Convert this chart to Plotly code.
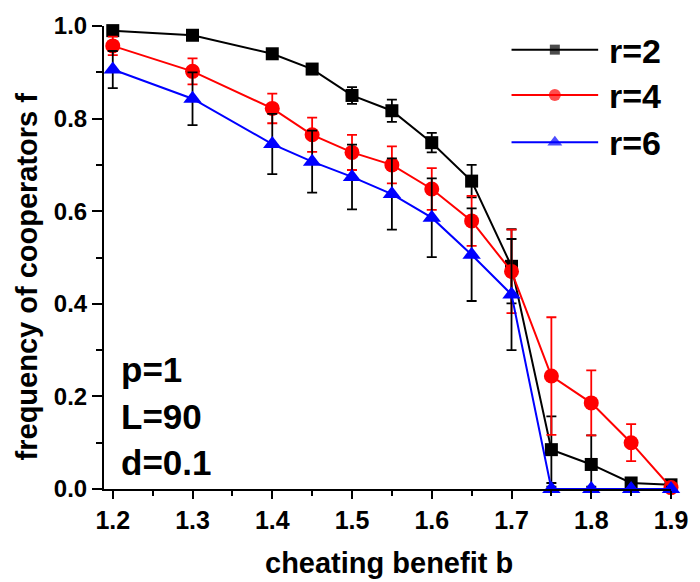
import plotly.graph_objects as go

# ---- data ----
b_vals = [1.2, 1.3, 1.4, 1.45, 1.5, 1.55, 1.6, 1.65, 1.7, 1.75, 1.8, 1.85, 1.9]
f_r2 = [0.990, 0.980, 0.940, 0.907, 0.850, 0.817, 0.748, 0.665, 0.481, 0.085, 0.053, 0.013, 0.009]
e_r2 = [0.005, 0.006, 0.010, 0.010, 0.018, 0.024, 0.021, 0.035, 0.080, 0.072, 0.063, 0.010, 0.010]
f_r4 = [0.957, 0.902, 0.822, 0.765, 0.727, 0.700, 0.648, 0.579, 0.470, 0.244, 0.186, 0.100, 0.003]
e_r4 = [0.020, 0.028, 0.032, 0.037, 0.038, 0.040, 0.045, 0.054, 0.090, 0.127, 0.070, 0.040, 0.010]
f_r6 = [0.906, 0.843, 0.745, 0.707, 0.674, 0.637, 0.586, 0.506, 0.420, 0.0, 0.0, 0.0, 0.0]
e_r6 = [0.040, 0.057, 0.065, 0.067, 0.070, 0.077, 0.085, 0.100, 0.120, 0.005, 0.005, 0.005, 0.005]

series_names = ["r=2", "r=4", "r=6"]
x_ticks = [1.2, 1.3, 1.4, 1.5, 1.6, 1.7, 1.8, 1.9]
x_ticktext = ["1.2", "1.3", "1.4", "1.5", "1.6", "1.7", "1.8", "1.9"]
y_ticks = [0.0, 0.2, 0.4, 0.6, 0.8, 1.0]
y_ticktext = ["0.0", "0.2", "0.4", "0.6", "0.8", "1.0"]
x_minor = [1.25, 1.35, 1.45, 1.55, 1.65, 1.75, 1.85]
y_minor = [0.1, 0.3, 0.5, 0.7, 0.9]
params_text = ["p=1", "L=90", "d=0.1"]

FONT = "Liberation Sans, Arial, sans-serif"
W, H = 700, 582
L, R, T, B = 104, 20, 19, 93
PW, PH = W - L - R, H - T - B

def px(x):
    return (x - L) / PW

def py(y):
    return (H - B - y) / PH

styles = [
    dict(color="#000000", symbol="square", size=13, ecolor="#000000"),
    dict(color="#FF0000", symbol="circle", size=15, ecolor="#FF0000"),
    dict(color="#0000FF", symbol="triangle-up", size=16, ecolor="#000000"),
]
ys = [f_r2, f_r4, f_r6]
es = [e_r2, e_r4, e_r6]

fig = go.Figure()
for name, yv, ev, st in zip(series_names, ys, es, styles):
    fig.add_trace(go.Scatter(
        x=b_vals, y=yv, name=name, mode="lines+markers",
        line=dict(color=st["color"], width=2),
        marker=dict(color=st["color"], symbol=st["symbol"], size=st["size"], line=dict(width=0)),
        error_y=dict(type="data", array=ev, visible=True, color=st["ecolor"], thickness=1.8, width=5),
        cliponaxis=False, showlegend=False,
    ))

# custom legend on an overlay axis in pixel units
leg_y = [43, 89, 137]
leg_msize = [10, 12, 13]
for name, st, ly, ms in zip(series_names, styles, leg_y, leg_msize):
    fig.add_trace(go.Scatter(
        x=[518, 562, 606], y=[ly, ly, ly], mode="lines+markers",
        line=dict(color=st["color"], width=2),
        marker=dict(color=st["color"], symbol=st["symbol"], size=[0, ms, 0], line=dict(width=0)),
        xaxis="x2", yaxis="y2", showlegend=False, hoverinfo="skip", cliponaxis=False,
    ))

annotations = []
for name, ly in zip(series_names, leg_y):
    annotations.append(dict(x=px(615), y=py(ly + 1), xref="paper", yref="paper", text=name,
                            showarrow=False, xanchor="left", yanchor="middle",
                            font=dict(family=FONT, size=34, color="black", weight="bold")))
for txt, ly in zip(params_text, [368, 415, 462]):
    annotations.append(dict(x=px(119), y=py(ly), xref="paper", yref="paper", text=txt,
                            showarrow=False, xanchor="left", yanchor="middle",
                            font=dict(family=FONT, size=35, color="black", weight="bold")))
annotations.append(dict(x=px(26), y=py(273), xref="paper", yref="paper",
                        text="frequency of cooperators f", textangle=-90, showarrow=False,
                        xanchor="center", yanchor="middle",
                        font=dict(family=FONT, size=29, color="black", weight="bold")))
annotations.append(dict(x=px(394), y=py(564), xref="paper", yref="paper",
                        text="cheating benefit b", showarrow=False,
                        xanchor="center", yanchor="middle",
                        font=dict(family=FONT, size=29, color="black", weight="bold")))

fig.update_layout(
    width=W, height=H,
    margin=dict(l=L, r=R, t=T, b=B, pad=0),
    paper_bgcolor="white", plot_bgcolor="white",
    showlegend=False,
    annotations=annotations,
    xaxis=dict(range=[1.189, 1.9], showline=True, linecolor="black", linewidth=2,
               ticks="outside", ticklen=8, tickwidth=2, tickcolor="black",
               tickvals=x_ticks, ticktext=x_ticktext, showgrid=False, zeroline=False,
               tickfont=dict(family=FONT, size=25, color="black", weight="bold"),
               minor=dict(tickmode="array", tickvals=x_minor, ticks="outside", ticklen=5,
                          tickwidth=2, tickcolor="black", showgrid=False),
               fixedrange=True),
    yaxis=dict(range=[0, 1.0], showline=True, linecolor="black", linewidth=2,
               ticks="outside", ticklen=10, tickwidth=2, tickcolor="black",
               tickvals=y_ticks, ticktext=y_ticktext, showgrid=False, zeroline=False,
               tickfont=dict(family=FONT, size=24, color="black", weight="bold"),
               minor=dict(tickmode="array", tickvals=y_minor, ticks="outside", ticklen=6,
                          tickwidth=2, tickcolor="black", showgrid=False),
               fixedrange=True),
    xaxis2=dict(range=[L, W - R], overlaying="x", anchor="y2", visible=False, fixedrange=True),
    yaxis2=dict(range=[H - B, T], overlaying="y", anchor="x2", visible=False, fixedrange=True),
)

fig.write_html("out.html")
